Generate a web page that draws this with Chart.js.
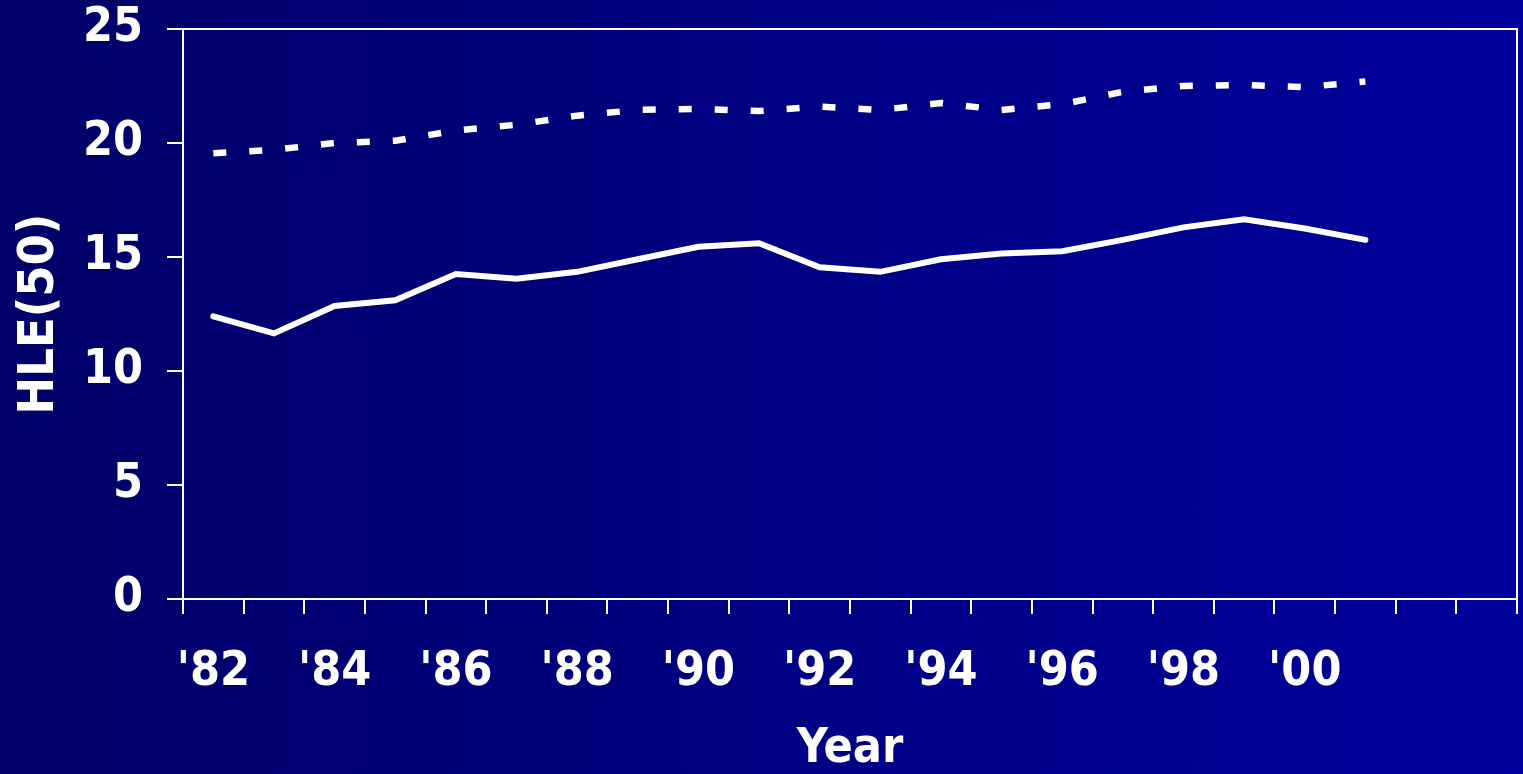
<!DOCTYPE html>
<html>
<head>
<meta charset="utf-8">
<script src="https://cdn.jsdelivr.net/npm/chart.js@4/dist/chart.umd.min.js"></script>
<style>
html, body { margin: 0; padding: 0; width: 1523px; height: 774px; overflow: hidden;
  background: linear-gradient(to right, #000068, #00009c); }
#wrap { width: 1523px; height: 774px; position: relative; }
canvas { display: block; }
</style>
</head>
<body>
<div id="wrap"><canvas id="c" width="1523" height="774"></canvas></div>
<script>
// ---- data ----
const years = [1982, 1983, 1984, 1985, 1986, 1987, 1988, 1989, 1990, 1991, 1992,
               1993, 1994, 1995, 1996, 1997, 1998, 1999, 2000, 2001, 2002, 2003];
const tickLabels = ["'82", "", "'84", "", "'86", "", "'88", "", "'90", "", "'92",
                    "", "'94", "", "'96", "", "'98", "", "'00", "", "", ""];
const hleSolid  = [12.4, 11.65, 12.85, 13.1, 14.25, 14.05, 14.35, 14.9, 15.45, 15.6,
                   14.55, 14.35, 14.9, 15.15, 15.25, 15.75, 16.3, 16.65, 16.25, 15.75];
const hleDashed = [19.55, 19.7, 20.0, 20.1, 20.55, 20.8, 21.2, 21.45, 21.5, 21.4,
                   21.6, 21.45, 21.75, 21.45, 21.7, 22.25, 22.5, 22.55, 22.45, 22.7];
const yMin = 0, yMax = 25, yStep = 5;
const yTitle = "HLE(50)";
const xTitle = "Year";

const FONT = "'DejaVu Sans Condensed', 'DejaVu Sans', sans-serif";

const frame = {
  id: 'frame',
  afterDraw(chart) {
    const { ctx, chartArea: a } = chart;
    ctx.save();
    ctx.strokeStyle = '#ffffff';
    ctx.lineWidth = 2;
    ctx.beginPath();
    ctx.moveTo(a.left, a.top);
    ctx.lineTo(a.right, a.top);
    ctx.lineTo(a.right, a.bottom);
    ctx.stroke();
    ctx.restore();
  }
};

new Chart(document.getElementById('c'), {
  type: 'line',
  data: {
    labels: tickLabels,
    datasets: [
      {
        label: 'dashed',
        data: hleDashed,
        borderColor: '#ffffff',
        borderWidth: 6.5,
        borderDash: [13, 23],
        borderCapStyle: 'butt',
        pointRadius: 0,
        fill: false,
        tension: 0
      },
      {
        label: 'solid',
        data: hleSolid,
        borderColor: '#ffffff',
        borderWidth: 6,
        borderCapStyle: 'round',
        borderJoinStyle: 'miter',
        pointRadius: 0,
        fill: false,
        tension: 0
      }
    ]
  },
  options: {
    responsive: false,
    devicePixelRatio: 1,
    animation: false,
    layout: { padding: { top: 29, right: 6, left: 0, bottom: 0 } },
    plugins: { legend: { display: false }, tooltip: { enabled: false } },
    scales: {
      x: {
        offset: true,
        grid: { offset: true, drawOnChartArea: false, drawTicks: true, tickLength: 15,
                color: '#ffffff', lineWidth: 2 },
        border: { display: true, color: '#ffffff', width: 2 },
        ticks: { autoSkip: false, maxRotation: 0, minRotation: 0, color: '#ffffff',
                 padding: 35, font: { family: FONT, size: 48, weight: 'bold', lineHeight: 1 } },
        title: { display: true, text: xTitle, color: '#ffffff',
                 font: { family: FONT, size: 48, weight: 'bold', lineHeight: 1 },
                 padding: { top: 0, bottom: 0 } },
        afterFit(scale) { scale.height = 175; }
      },
      y: {
        min: yMin, max: yMax,
        grid: { drawOnChartArea: false, drawTicks: true, tickLength: 16,
                color: '#ffffff', lineWidth: 2 },
        border: { display: true, color: '#ffffff', width: 2 },
        ticks: { stepSize: yStep, color: '#ffffff', padding: 24,
                 font: { family: FONT, size: 48, weight: 'bold', lineHeight: 1 } },
        title: { display: true, text: yTitle, color: '#ffffff',
                 font: { family: FONT, size: 50, weight: 'bold', lineHeight: 1 },
                 padding: { top: 15, bottom: 0 } },
        afterFit(scale) {
          scale.width = 183;
          scale.paddingTop = 20;
          scale.paddingBottom = 20;
        }
      }
    }
  },
  plugins: [frame]
});
</script>
</body>
</html>
